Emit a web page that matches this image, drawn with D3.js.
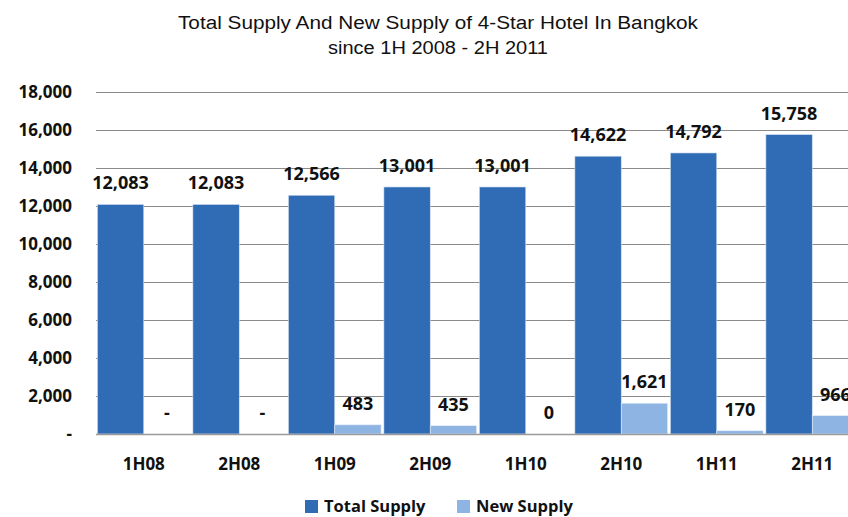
<!DOCTYPE html>
<html><head><meta charset="utf-8">
<script src="https://cdn.jsdelivr.net/npm/d3@7"></script>
<style>body{margin:0;background:#fff;} svg{display:block;}</style>
</head><body>
<svg id="chart" width="848" height="517"></svg>
<script>
const categories = ["1H08","2H08","1H09","2H09","1H10","2H10","1H11","2H11"];
const totalSupply = [12083,12083,12566,13001,13001,14622,14792,15758];
const newSupply = [null,null,483,435,0,1621,170,966];
const seriesNames = ["Total Supply","New Supply"];
const yTicks = [0,2000,4000,6000,8000,10000,12000,14000,16000,18000];
const titleLines = ["Total Supply And New Supply of 4-Star Hotel In Bangkok","since 1H 2008 - 2H 2011"];

const colors = {"Total Supply":"#2F6CB5","New Supply":"#8DB4E2"};
const svg = d3.select("#chart");
const font = "'Open Sans', 'DejaVu Sans', sans-serif";

const x = d3.scaleBand().domain(categories).range([96, 860]).padding(0);
const x1 = d3.scaleBand().domain(seriesNames).range([0, x.bandwidth()]).paddingOuter(0.03).paddingInner(0);
const y = d3.scaleLinear().domain([0,18000]).range([434, 92]);
const fmt = d3.format(",");

// Title
svg.append("g").selectAll("text").data(titleLines).join("text")
  .attr("x", 438).attr("y", (d,i)=> 29 + i*25)
  .attr("text-anchor","middle")
  .attr("font-family","'Liberation Sans Narrow', 'Liberation Sans', sans-serif")
  .attr("font-size", 18).attr("fill","#111")
  .attr("textLength",(d,i)=> i===0 ? 520 : 220).attr("lengthAdjust","spacingAndGlyphs")
  .text(d=>d);

// Gridlines
svg.append("g").selectAll("line").data(yTicks.filter(t=>t>0)).join("line")
  .attr("x1",96).attr("x2",848).attr("y1",d=>Math.round(y(d))+0.5).attr("y2",d=>Math.round(y(d))+0.5)
  .attr("stroke","#8a8a8a").attr("stroke-width",1);

// Y axis labels
const yAxis = d3.axisLeft(y).tickValues(yTicks).tickSize(0).tickPadding(0)
  .tickFormat(d=> d===0 ? "-" : fmt(d));
const yg = svg.append("g").attr("transform","translate(72,0)").call(yAxis);
yg.select(".domain").remove();
yg.selectAll("text").attr("font-family",font).attr("font-weight",700).attr("font-size",17).attr("fill","#111");

// Bars
const groups = svg.append("g").selectAll("g").data(categories).join("g")
  .attr("transform",d=>`translate(${x(d)},0)`);
groups.append("rect")
  .attr("x",x1("Total Supply")).attr("width",x1.bandwidth())
  .attr("y",(d,i)=>y(totalSupply[i])).attr("height",(d,i)=>y(0)-y(totalSupply[i]))
  .attr("fill",colors["Total Supply"]).attr("stroke","#d6e2f1").attr("stroke-width",0.6);
groups.append("rect")
  .attr("x",x1("New Supply")).attr("width",x1.bandwidth())
  .attr("y",(d,i)=>y(newSupply[i]||0)).attr("height",(d,i)=>y(0)-y(newSupply[i]||0))
  .attr("fill",colors["New Supply"]).attr("stroke","#e6eef8").attr("stroke-width",0.6);

// Baseline
svg.append("line").attr("x1",96).attr("x2",848).attr("y1",y(0)+0.5).attr("y2",y(0)+0.5)
  .attr("stroke","#9a9a9a").attr("stroke-width",1.5);

// Value labels
groups.append("text")
  .attr("x",x1("Total Supply")+x1.bandwidth()/2).attr("y",(d,i)=>y(totalSupply[i])-15)
  .attr("text-anchor","middle").attr("font-family",font).attr("font-weight",700).attr("font-size",18).attr("fill","#111")
  .text((d,i)=>fmt(totalSupply[i]));
groups.append("text")
  .attr("x",x1("New Supply")+x1.bandwidth()/2).attr("y",(d,i)=>y(newSupply[i]||0)-15)
  .attr("text-anchor","middle").attr("font-family",font).attr("font-weight",700).attr("font-size",18).attr("fill","#111")
  .text((d,i)=> newSupply[i]===null ? "-" : fmt(newSupply[i]));

// X axis labels
const xAxis = d3.axisBottom(x).tickSize(0).tickPadding(0);
const xg = svg.append("g").attr("transform","translate(0,470)").call(xAxis);
xg.select(".domain").remove();
xg.selectAll("text").attr("dy",0).attr("font-family",font).attr("font-weight",700).attr("font-size",17).attr("fill","#111");

// Legend
const legendX = [305, 457];
const lg = svg.append("g").selectAll("g").data(seriesNames).join("g")
  .attr("transform",(d,i)=>`translate(${legendX[i]},500)`);
lg.append("rect").attr("width",13).attr("height",13).attr("fill",d=>colors[d]);
lg.append("text").attr("x",19).attr("y",12)
  .attr("font-family",font).attr("font-weight",700).attr("font-size",16.5).attr("fill","#111")
  .text(d=>d);
</script>
</body></html>
